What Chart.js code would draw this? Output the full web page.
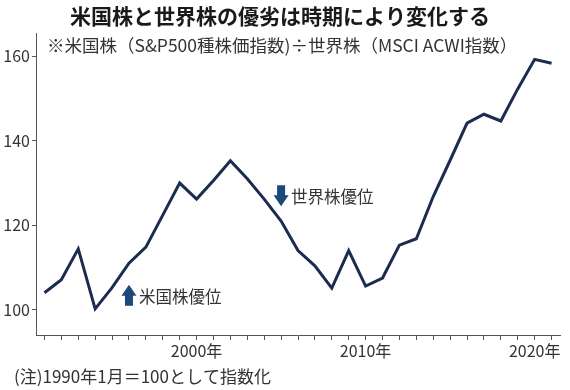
<!DOCTYPE html>
<html>
<head>
<meta charset="utf-8">
<script src="https://cdn.jsdelivr.net/npm/chart.js@4"></script>
<style>
html,body{margin:0;padding:0;background:#fff}
#wrap{width:570px;height:390px;position:relative}
</style>
</head>
<body>
<div id="wrap"><canvas id="c"></canvas></div>
<script>
const titleText = '米国株と世界株の優劣は時期により変化する';
const noteText = '※米国株（S&P500種株価指数)÷世界株（MSCI ACWI指数）';
const footText = '(注)1990年1月＝100として指数化';

const years = ['1991','1992','1993','1994','1995','1996','1997','1998','1999','2000',
               '2001','2002','2003','2004','2005','2006','2007','2008','2009','2010',
               '2011','2012','2013','2014','2015','2016','2017','2018','2019','2020','2021'];
const ratioValues = [104.0,107.1,114.4,100.2,105.2,111.0,114.8,122.4,130.0,126.2,
                     130.6,135.3,131.0,126.2,121.0,114.0,110.4,105.1,114.0,105.6,
                     107.5,115.3,116.8,126.8,135.4,144.2,146.3,144.7,152.3,159.3,158.4];
const yTicks = [100,120,140,160];
const xLabelYears = ['2000','2010','2020'];
const annotationYears = ['1996','2005'];
const annotationValues = [103.4,127.0];
const annotationDirs = ['up','down'];
const annotationLabels = ['米国株優位','世界株優位'];

const FONT = "'Noto Sans CJK JP', 'Noto Sans', sans-serif";
const NUM_FONT = "'Noto Sans CJK JP', 'Noto Sans', sans-serif";
const LINE_COLOR = '#1b2c50';
const ARROW_COLOR = '#1b4a7a';
const AXIS_COLOR = '#555';
const TEXT_COLOR = '#333';

function drawArrow(ctx, cx, cy, dir) {
  const w = 15, h = 21, headH = 11, shaftW = 8;
  const s = dir === 'up' ? -1 : 1;
  const tipY = cy + s * h / 2, baseY = cy - s * h / 2, neckY = tipY - s * headH;
  ctx.save();
  ctx.fillStyle = ARROW_COLOR;
  ctx.beginPath();
  ctx.moveTo(cx, tipY);
  ctx.lineTo(cx + w / 2, neckY);
  ctx.lineTo(cx + shaftW / 2, neckY);
  ctx.lineTo(cx + shaftW / 2, baseY);
  ctx.lineTo(cx - shaftW / 2, baseY);
  ctx.lineTo(cx - shaftW / 2, neckY);
  ctx.lineTo(cx - w / 2, neckY);
  ctx.closePath();
  ctx.fill();
  ctx.restore();
}

const textPlugin = {
  id: 'texts',
  afterDraw(chart) {
    const ctx = chart.ctx, area = chart.chartArea;
    const xs = chart.scales.x, ys = chart.scales.y;
    ctx.save();
    ctx.fillStyle = TEXT_COLOR;
    ctx.textBaseline = 'middle';
    ctx.textAlign = 'left';
    ctx.font = '17.5px ' + FONT;
    ctx.fillText(noteText, area.left + 11, area.top + 12);
    ctx.font = '17px ' + FONT;
    ctx.fillText(footText, 14, chart.height - 13);
    for (let i = 0; i < annotationYears.length; i++) {
      const cx = xs.getPixelForValue(years.indexOf(annotationYears[i]));
      const cy = ys.getPixelForValue(annotationValues[i]);
      drawArrow(ctx, cx, cy, annotationDirs[i]);
      ctx.fillStyle = TEXT_COLOR;
      ctx.font = '16.5px ' + FONT;
      ctx.fillText(annotationLabels[i], cx + 10, cy + 1);
    }
    ctx.restore();
  }
};

new Chart(document.getElementById('c'), {
  type: 'line',
  data: {
    labels: years,
    datasets: [{
      data: ratioValues,
      borderColor: LINE_COLOR,
      borderWidth: 3,
      pointRadius: 0,
      tension: 0,
      borderJoinStyle: 'miter',
      fill: false
    }]
  },
  options: {
    animation: false,
    responsive: true,
    maintainAspectRatio: false,
    layout: { padding: { left: 0, right: 10, top: 0, bottom: 27 } },
    plugins: {
      legend: { display: false },
      tooltip: { enabled: false },
      title: {
        display: true,
        text: titleText,
        color: '#1a1a1a',
        font: { family: FONT, size: 21, weight: 'bold' },
        padding: { top: 3, bottom: 5 }
      }
    },
    scales: {
      x: {
        type: 'category',
        offset: true,
        grid: { drawOnChartArea: false, drawTicks: true, tickLength: 5, color: AXIS_COLOR, lineWidth: 1 },
        border: { display: true, color: AXIS_COLOR, width: 1 },
        ticks: {
          autoSkip: false, maxRotation: 0, minRotation: 0, padding: 1,
          color: TEXT_COLOR, font: { family: NUM_FONT, size: 16 },
          callback: (v, i) => xLabelYears.includes(years[i]) ? years[i] + '年' : ''
        },
        afterFit: s => { s.height = 28; }
      },
      y: {
        min: 94, max: 165.5,
        afterBuildTicks: s => { s.ticks = yTicks.map(v => ({ value: v })); },
        grid: { drawOnChartArea: false, drawTicks: true, tickLength: 4, color: AXIS_COLOR },
        border: { display: true, color: AXIS_COLOR, width: 1 },
        ticks: { padding: 2, color: TEXT_COLOR, font: { family: NUM_FONT, size: 16 } },
        afterFit: s => { s.width = 36; }
      }
    }
  },
  plugins: [textPlugin]
});
</script>
</body>
</html>
